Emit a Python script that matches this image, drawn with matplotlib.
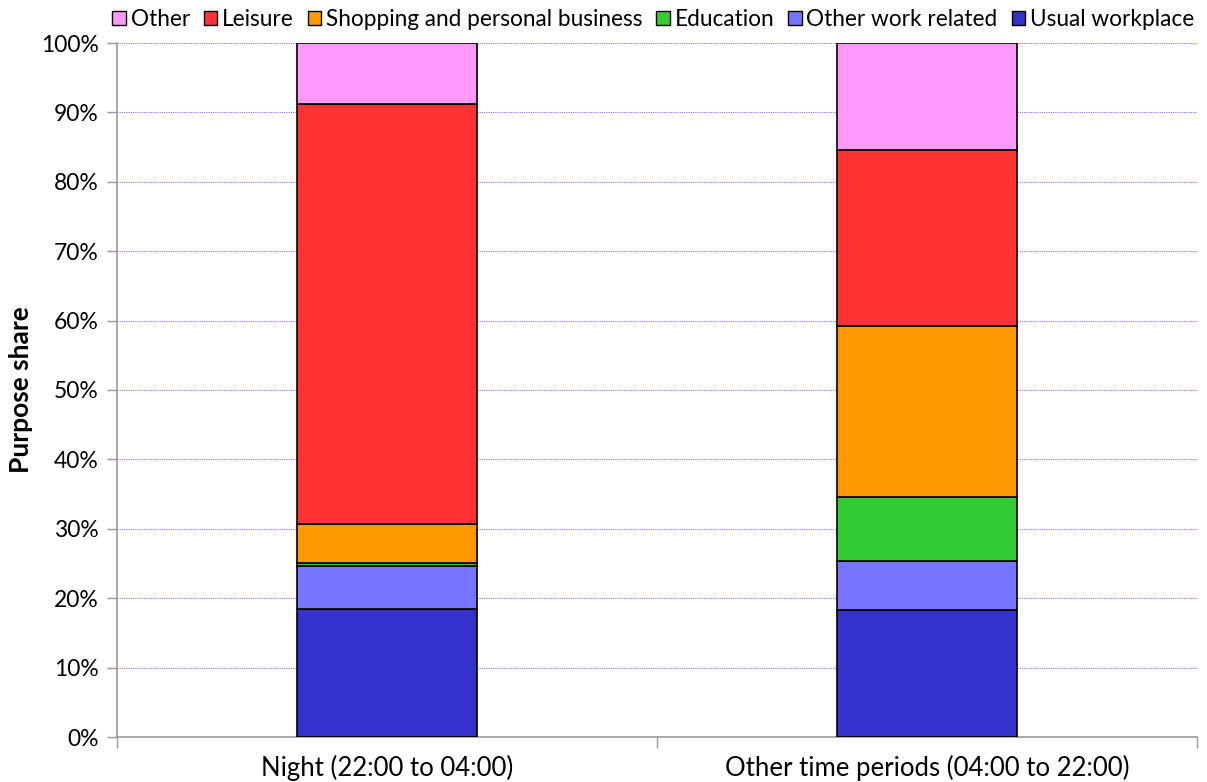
import matplotlib
matplotlib.use("Agg")
import matplotlib.pyplot as plt
import numpy as np
from matplotlib.ticker import PercentFormatter

plt.rcParams['font.family'] = ['Lato', 'DejaVu Sans']

categories = ["Night (22:00 to 04:00)", "Other time periods (04:00 to 22:00)"]
series_names = ["Usual workplace", "Other work related", "Education",
                "Shopping and personal business", "Leisure", "Other"]
usual_workplace = [18.5, 18.3]
other_work_related = [6.1, 7.1]
education = [0.5, 9.2]
shopping = [5.6, 24.6]
leisure = [60.5, 25.4]
other = [8.8, 15.4]
series_values = [usual_workplace, other_work_related, education, shopping, leisure, other]
colors = ["#3333CC", "#7575FF", "#33CC33", "#FF9900", "#FF3333", "#FF99FF"]
y_ticks = [0, 10, 20, 30, 40, 50, 60, 70, 80, 90, 100]

fig = plt.figure(figsize=(12.07, 7.82), dpi=100)
ax = fig.add_axes([117/1207, 45/782, 1080/1207, 694/782])

x = np.arange(len(categories))
bottom = np.zeros(len(categories))
handles = []
for name, vals, c in zip(series_names, series_values, colors):
    b = ax.bar(x, vals, bottom=bottom, width=1/3, color=c, edgecolor="black",
               linewidth=1.2, label=name, zorder=3)
    handles.append(b)
    bottom += np.array(vals)

ax.set_xlim(-0.5, 1.5)
ax.set_ylim(0, 100)
ax.set_yticks(y_ticks)
ax.yaxis.set_major_formatter(PercentFormatter(decimals=0))
ax.set_xticks(x)
ax.set_xticklabels(categories, fontsize=18.5)
ax.tick_params(axis='x', length=0, pad=13)
ax.set_xticks([-0.5, 0.5, 1.5], minor=True)
ax.tick_params(axis='x', which='minor', length=8, color="#999999", width=1)
ax.tick_params(axis='y', labelsize=16.5, length=7, color="#999999", width=1, pad=6)
ax.grid(axis='y', color="#9966FF", linestyle=(0, (1, 1)), linewidth=0.8, zorder=0)
for s in ["top", "right"]:
    ax.spines[s].set_visible(False)
for s in ["left", "bottom"]:
    ax.spines[s].set_color("#999999")
    ax.spines[s].set_linewidth(1.2)
ax.set_ylabel("Purpose share", fontsize=19, fontweight="bold", labelpad=6)

leg = fig.legend(handles[::-1], series_names[::-1], loc="upper right",
                 bbox_to_anchor=(1203/1207, 1.0), ncol=6, frameon=False,
                 fontsize=16.3, handlelength=0.6, handleheight=0.6,
                 handletextpad=0.2, columnspacing=0.62, borderaxespad=0.0)
for h in leg.legend_handles:
    h.set_linewidth(1)

fig.savefig("out.png", dpi=100)
